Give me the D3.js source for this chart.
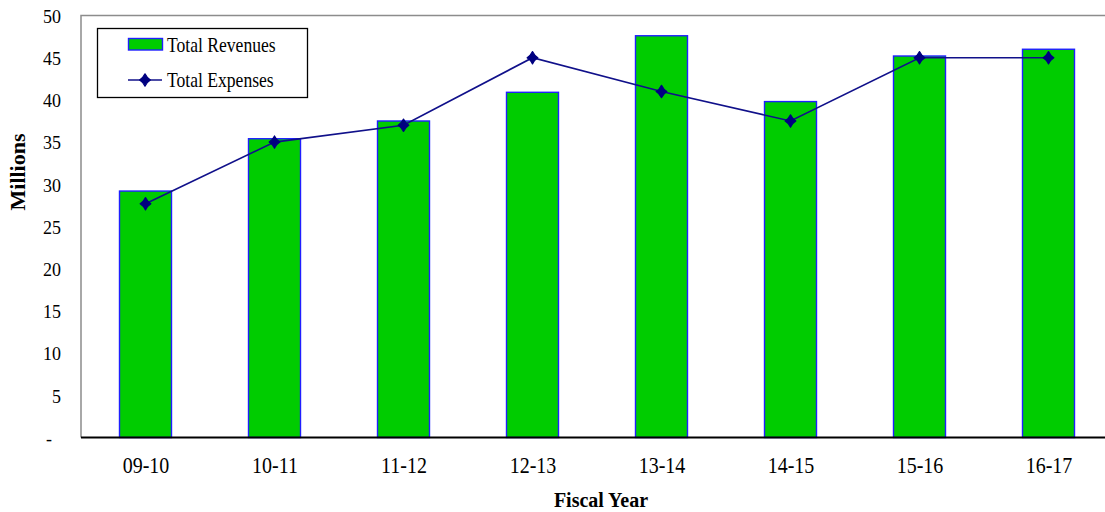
<!DOCTYPE html>
<html>
<head>
<meta charset="utf-8">
<script src="https://cdn.jsdelivr.net/npm/d3@7"></script>
<style>
  html, body { margin: 0; padding: 0; background: #fff; }
  svg { display: block; }
  svg text { font-family: "Liberation Serif", "Times New Roman", serif; fill: #000; }
</style>
</head>
<body>
<svg id="chart" width="1105" height="512"></svg>
<script>
// Fiscal years and amounts (millions)
const years = ["09-10", "10-11", "11-12", "12-13", "13-14", "14-15", "15-16", "16-17"];
const revenues = [29.2, 35.4, 37.5, 40.9, 47.6, 39.8, 45.2, 46.0];
const expenses = [27.7, 35.0, 37.0, 45.0, 41.0, 37.5, 45.0, 45.0];
const yTicks = [0, 5, 10, 15, 20, 25, 30, 35, 40, 45, 50];

const svg = d3.select("#chart");
const W = 1105, H = 512;
const x0 = 81, x1 = 1113;          // plot runs slightly past the right edge
const yTop = 15.5, yBot = 437.5;

const xc = d3.scalePoint().domain(years).range([x0, x1]).padding(0.5);
const y = d3.scaleLinear().domain([0, 50]).range([yBot, yTop]);
const barW = 52;

// plot frame (left and top edges)
svg.append("path")
  .attr("d", `M${x0},${yBot}V${yTop}H${W}`)
  .attr("fill", "none").attr("stroke", "#8c8c8c").attr("stroke-width", 1.5);

// revenue bars
svg.append("g").selectAll("rect").data(years).join("rect")
  .attr("x", d => xc(d) - barW / 2)
  .attr("width", barW)
  .attr("y", (d, i) => y(revenues[i]))
  .attr("height", (d, i) => yBot - y(revenues[i]))
  .attr("fill", "#00cc00")
  .attr("stroke", "#1f1fff").attr("stroke-width", 1.4);

// y axis labels (slightly tall type)
const ky = 1.1, fy = 18;
const yAxis = d3.axisLeft(y).tickValues(yTicks).tickSize(0).tickPadding(0)
  .tickFormat(d => d === 0 ? "-" : d);
const gy = svg.append("g").attr("transform", `translate(61,0)`).call(yAxis);
gy.attr("font-family", null);
gy.select(".domain").remove();
gy.selectAll("text")
  .attr("font-size", fy).attr("x", 0).attr("dy", null)
  .attr("y", 0.338 * fy)
  .attr("dx", d => d === 0 ? -9 : 0)
  .attr("transform", `scale(1,${ky})`);

// x axis
const kx = 1.18, fx = 20;
const xAxis = d3.axisBottom(xc).tickSize(0).tickPadding(0);
const gx = svg.append("g").attr("transform", `translate(0,${yBot})`).call(xAxis);
gx.attr("font-family", null);
gx.select(".domain").attr("d", `M${x0},0H${W}`).attr("stroke", "#000").attr("stroke-width", 2.2);
gx.selectAll("text")
  .attr("font-size", fx).attr("dy", null)
  .attr("y", 35.5 / kx)
  .attr("transform", `scale(1,${kx})`);

// expenses line
const line = d3.line().x((d, i) => xc(years[i])).y(d => y(d));
svg.append("path").datum(expenses)
  .attr("d", line).attr("fill", "none")
  .attr("stroke", "#10108a").attr("stroke-width", 1.6);

// diamond marker with slightly pinched sides
const diamond = "M0,-6.2Q2,-2 5.4,0Q2,2 0,6.2Q-2,2 -5.4,0Q-2,-2 0,-6.2Z";
svg.append("g").selectAll("path").data(expenses).join("path")
  .attr("transform", (d, i) => `translate(${xc(years[i])},${y(d)})`)
  .attr("d", diamond).attr("fill", "#000080")
  .attr("stroke", "#000080").attr("stroke-width", 1.2).attr("stroke-linejoin", "round");

// axis titles
svg.append("text")
  .attr("transform", `translate(25,172) rotate(-90)`)
  .attr("text-anchor", "middle").attr("font-weight", "bold").attr("font-size", 22)
  .text("Millions");
svg.append("text")
  .attr("x", 601).attr("y", 506.5)
  .attr("text-anchor", "middle").attr("font-weight", "bold").attr("font-size", 20)
  .text("Fiscal Year");

// legend
const kl = 1.14, fl = 17.6;
const lg = svg.append("g");
lg.append("rect").attr("x", 97.5).attr("y", 28.5).attr("width", 210).attr("height", 69)
  .attr("fill", "#fff").attr("stroke", "#000").attr("stroke-width", 1.3);
lg.append("rect").attr("x", 128.5).attr("y", 38.5).attr("width", 34).attr("height", 11.5)
  .attr("fill", "#00cc00").attr("stroke", "#1f1fff").attr("stroke-width", 1.4);
lg.append("text").attr("x", 167).attr("y", 52.5 / kl).attr("font-size", fl)
  .attr("transform", `scale(1,${kl})`).text("Total Revenues");
lg.append("line").attr("x1", 128).attr("x2", 162).attr("y1", 80).attr("y2", 80)
  .attr("stroke", "#10108a").attr("stroke-width", 1.6);
lg.append("path").attr("transform", "translate(145,80)")
  .attr("d", diamond).attr("fill", "#000080")
  .attr("stroke", "#000080").attr("stroke-width", 1.2).attr("stroke-linejoin", "round");
lg.append("text").attr("x", 167).attr("y", 87.3 / kl).attr("font-size", fl)
  .attr("transform", `scale(1,${kl})`).text("Total Expenses");
</script>
</body>
</html>
